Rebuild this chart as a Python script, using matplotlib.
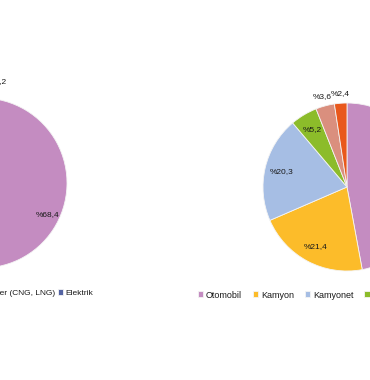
import matplotlib.pyplot as plt

plt.rcParams['font.family'] = ['Liberation Sans', 'DejaVu Sans']

# left chart (mostly cut off at the left edge)
yakit = ['Motorin', 'Benzin', 'LPG', 'Diğer (CNG, LNG)', 'Elektrik']
yakit_pay = [68.4, 15.1, 14.1, 2.2, 0.2]
yakit_renk = ['#C48CC1', '#8A8FC4', '#E6A15C', '#7FB7B0', '#5363A2']

# right chart
arac = ['Otomobil', 'Kamyon', 'Kamyonet', 'Otobüs', 'Minibüs', 'Motosiklet']
arac_pay = [47.1, 21.4, 20.3, 5.2, 3.6, 2.4]
arac_renk = ['#C48CC1', '#FCBC2A', '#A6BEE4', '#8CBC2A', '#DA8F7E', '#E9581C']

W, H = 370, 380
fig = plt.figure(figsize=(W / 100, H / 100), dpi=100)
ax = fig.add_axes([0, 0, 1, 1])


def fmt(p):
    return '%' + f'{p:.1f}'.replace('.', ',')


def pie(values, colors, cx, cy, r):
    wedges, texts, autos = ax.pie(
        values, colors=colors, center=(cx, H - cy), radius=r,
        startangle=90, counterclock=False, autopct=fmt, pctdistance=0.8,
        wedgeprops=dict(edgecolor='#f4f4f4', linewidth=0.6),
        textprops=dict(fontsize=6, color='#1a1a1a'))
    return wedges, autos


lw, la = pie(yakit_pay, yakit_renk, -18, 183, 85)
# small slice label sits outside above the pie
la[-1].set_position((-3, H - 82))
la[0].set_position((48, H - 215))

rw, ra = pie(arac_pay, arac_renk, 347, 187, 84)
for t in ra[4:]:
    x, y = t.get_position()
    t.set_position((347 + (x - 347) * 1.4, (H - 187) + (y - (H - 187)) * 1.4))

ax.set_xlim(0, W)
ax.set_ylim(0, H)
ax.set_aspect('auto')
ax.axis('off')

leg_kw = dict(frameon=False, handlelength=0.6, handleheight=0.6,
              handletextpad=0.3, borderpad=0, borderaxespad=0)
l1 = fig.legend(lw, yakit, ncol=5, loc='center right', columnspacing=0.3,
                fontsize=6, bbox_to_anchor=(93 / W, 1 - 293 / H), **leg_kw)
l2 = fig.legend(rw, arac, ncol=6, loc='center left', columnspacing=1.2,
                fontsize=6.5, bbox_to_anchor=(198 / W, 1 - 295 / H), **leg_kw)
for l in (l1, l2):
    for t in l.get_texts():
        t.set_color('#1a1a1a')

fig.savefig('out.png', dpi=100, facecolor='white')
